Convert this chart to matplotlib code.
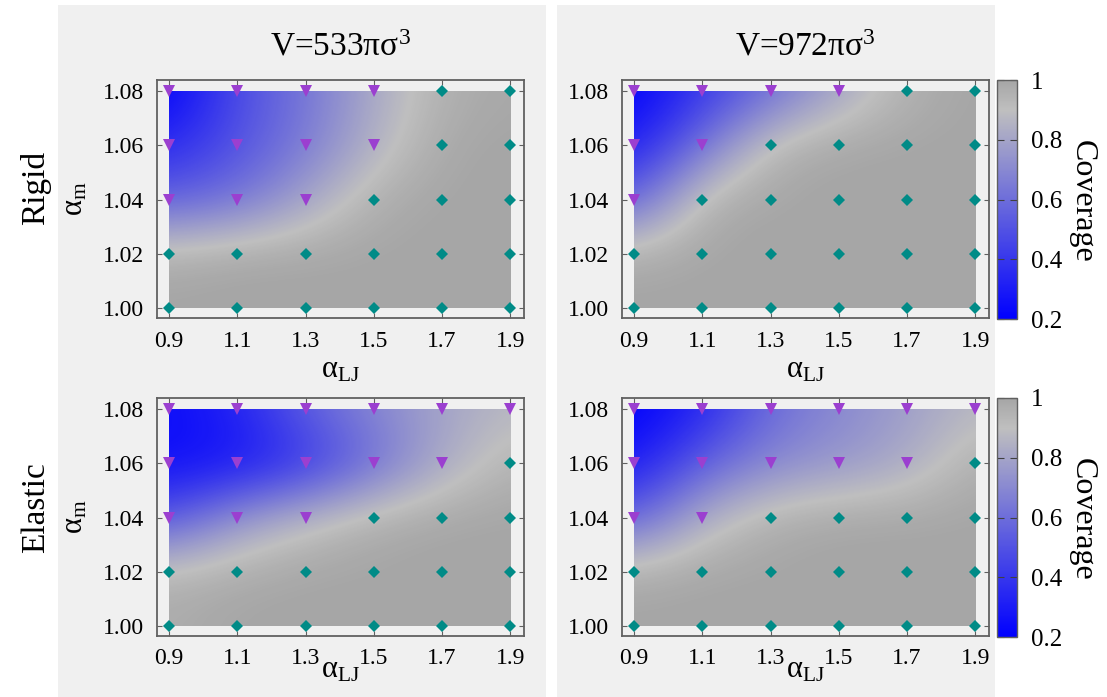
import numpy as np
import matplotlib
matplotlib.use('Agg')
import matplotlib.pyplot as plt
from matplotlib.colors import LinearSegmentedColormap
from matplotlib.patches import Rectangle

# ---------------- data ----------------
alpha_lj = [0.9, 1.1, 1.3, 1.5, 1.7, 1.9]
alpha_m = [1.00, 1.02, 1.04, 1.06, 1.08]
x_tick_labels = ['0.9', '1.1', '1.3', '1.5', '1.7', '1.9']
y_tick_labels = ['1.00', '1.02', '1.04', '1.06', '1.08']
col_titles = ['V=533πσ$^3$', 'V=972πσ$^3$']
row_titles = ['Rigid', 'Elastic']
cbar_ticks = [0.2, 0.4, 0.6, 0.8, 1.0]
cbar_tick_labels = ['0.2', '0.4', '0.6', '0.8', '1']
cbar_label = 'Coverage'
threshold = 0.9  # below: not fully covered (triangle), else diamond

# rows: alpha_m = 1.00 ... 1.08 ; columns: alpha_LJ = 0.9 ... 1.9
cov_rigid_533 = [
    [1.00, 1.00, 1.00, 1.00, 1.00, 1.00],
    [0.97, 1.00, 1.00, 1.00, 1.00, 1.00],
    [0.55, 0.62, 0.80, 0.97, 1.00, 1.00],
    [0.35, 0.50, 0.65, 0.85, 0.99, 1.00],
    [0.20, 0.48, 0.63, 0.82, 0.96, 0.99],
]
cov_rigid_972 = [
    [1.00, 1.00, 1.00, 1.00, 1.00, 1.00],
    [0.98, 1.00, 1.00, 1.00, 1.00, 1.00],
    [0.55, 0.97, 1.00, 1.00, 1.00, 1.00],
    [0.30, 0.62, 0.95, 1.00, 1.00, 1.00],
    [0.20, 0.40, 0.60, 0.80, 0.96, 1.00],
]
cov_elastic_533 = [
    [0.97, 1.00, 1.00, 1.00, 1.00, 1.00],
    [0.95, 0.98, 1.00, 1.00, 1.00, 1.00],
    [0.50, 0.75, 0.88, 0.97, 1.00, 1.00],
    [0.25, 0.27, 0.38, 0.60, 0.82, 0.95],
    [0.25, 0.33, 0.55, 0.70, 0.80, 0.87],
]
cov_elastic_972 = [
    [1.00, 1.00, 1.00, 1.00, 1.00, 1.00],
    [0.98, 1.00, 1.00, 1.00, 1.00, 1.00],
    [0.55, 0.85, 0.97, 1.00, 1.00, 1.00],
    [0.28, 0.55, 0.70, 0.75, 0.82, 0.97],
    [0.20, 0.33, 0.60, 0.70, 0.78, 0.87],
]
panels = [[cov_rigid_533, cov_rigid_972], [cov_elastic_533, cov_elastic_972]]

# ---------------- style ----------------
plt.rcParams['font.family'] = ['Liberation Serif', 'DejaVu Serif']
plt.rcParams['mathtext.fontset'] = 'custom'
plt.rcParams['mathtext.rm'] = 'Liberation Serif'
plt.rcParams['mathtext.it'] = 'Liberation Serif:italic'
plt.rcParams['mathtext.bf'] = 'Liberation Serif:bold'

W, H = 1107, 697
fig = plt.figure(figsize=(W / 100, H / 100), dpi=100)
fig.patch.set_facecolor('white')

def fx(px):
    return px / W

def fy(py):
    return 1 - py / H

# gray panels behind the two columns
for x0, x1 in [(58, 546), (557, 995)]:
    fig.add_artist(Rectangle((fx(x0), 0), fx(x1 - x0), (H - 5) / H,
                             transform=fig.transFigure, facecolor='#f0f0f0',
                             edgecolor='none', zorder=-10))

cmap = LinearSegmentedColormap.from_list(
    'cov', [(0.0, '#0000ff'), (0.875, '#bfbfbf'), (1.0, '#a6a6a6')])

ax_left = [157, 622]
ax_w = 367
ax_top = [80, 398]
ax_h = 238
dx = alpha_lj[1] - alpha_lj[0]
dy = alpha_m[1] - alpha_m[0]
frame_col = '#606060'

for r in range(2):
    for c in range(2):
        data = np.array(panels[r][c])
        L = ax_left[c]
        T = ax_top[r]
        ax = fig.add_axes([fx(L), fy(T + ax_h), fx(ax_w), ax_h / H])
        ax.set_facecolor('#f0f0f0')
        im = ax.imshow(data, origin='lower', cmap=cmap, vmin=0.2, vmax=1.0,
                       extent=[alpha_lj[0] - dx / 2, alpha_lj[-1] + dx / 2,
                               alpha_m[0] - dy / 2, alpha_m[-1] + dy / 2],
                       aspect='auto', interpolation='bicubic',
                       interpolation_stage='data', zorder=1)
        clip = Rectangle((alpha_lj[0], alpha_m[0]), alpha_lj[-1] - alpha_lj[0],
                         alpha_m[-1] - alpha_m[0], transform=ax.transData)
        im.set_clip_path(clip)
        X, Y = np.meshgrid(alpha_lj, alpha_m)
        low = data < threshold
        ax.plot(X[low], Y[low], linestyle='none', marker='v', markersize=8,
                color='#9b3fd0', markeredgewidth=0, zorder=3, clip_on=False)
        ax.plot(X[~low], Y[~low], linestyle='none', marker='D', markersize=6.2,
                color='#008b87', markeredgewidth=0, zorder=3, clip_on=False)
        ax.set_xlim(0.865, 1.940)
        ax.set_ylim(0.9963, 1.0841)
        ax.set_xticks(alpha_lj)
        ax.set_xticklabels(x_tick_labels)
        ax.set_yticks(alpha_m)
        ax.set_yticklabels(y_tick_labels)
        ax.tick_params(direction='in', length=3.5, width=0.8, color=frame_col,
                       top=True, right=True, labelsize=17, pad=9)
        for s in ax.spines.values():
            s.set_color(frame_col)
            s.set_linewidth(1.3)
        cx = L + ax_w / 2
        # x label
        xl_y = 370 if r == 0 else 670
        fig.text(fx(cx), fy(xl_y), 'α$_{\\mathrm{LJ}}$', ha='center', va='center',
                 fontsize=22)
        if c == 0:
            fig.text(fx(75), fy(T + ax_h / 2), 'α$_{\\mathrm{m}}$', rotation=90,
                     ha='center', va='center', fontsize=22)
            fig.text(fx(36), fy(188 if r == 0 else 508), row_titles[r],
                     rotation=90, ha='center', va='center', fontsize=24)
        if r == 0:
            fig.text(fx(cx), fy(47), col_titles[c], ha='center', va='center',
                     fontsize=24)
        if c == 1:
            cax = fig.add_axes([fx(997), fy(T + ax_h + 1), fx(20), (ax_h + 1) / H])
            cb = fig.colorbar(im, cax=cax)
            cb.set_ticks(cbar_ticks)
            cb.set_ticklabels(cbar_tick_labels)
            cb.outline.set_edgecolor(frame_col)
            cb.outline.set_linewidth(1.0)
            cax.tick_params(direction='in', length=5, width=0.8, color='#404040',
                            left=True, right=True, labelsize=18, pad=10)
            fig.text(fx(1082), fy(T + ax_h / 2 + 2), cbar_label, rotation=-90,
                     ha='center', va='center', fontsize=23)

fig.savefig('out.png', dpi=100)
